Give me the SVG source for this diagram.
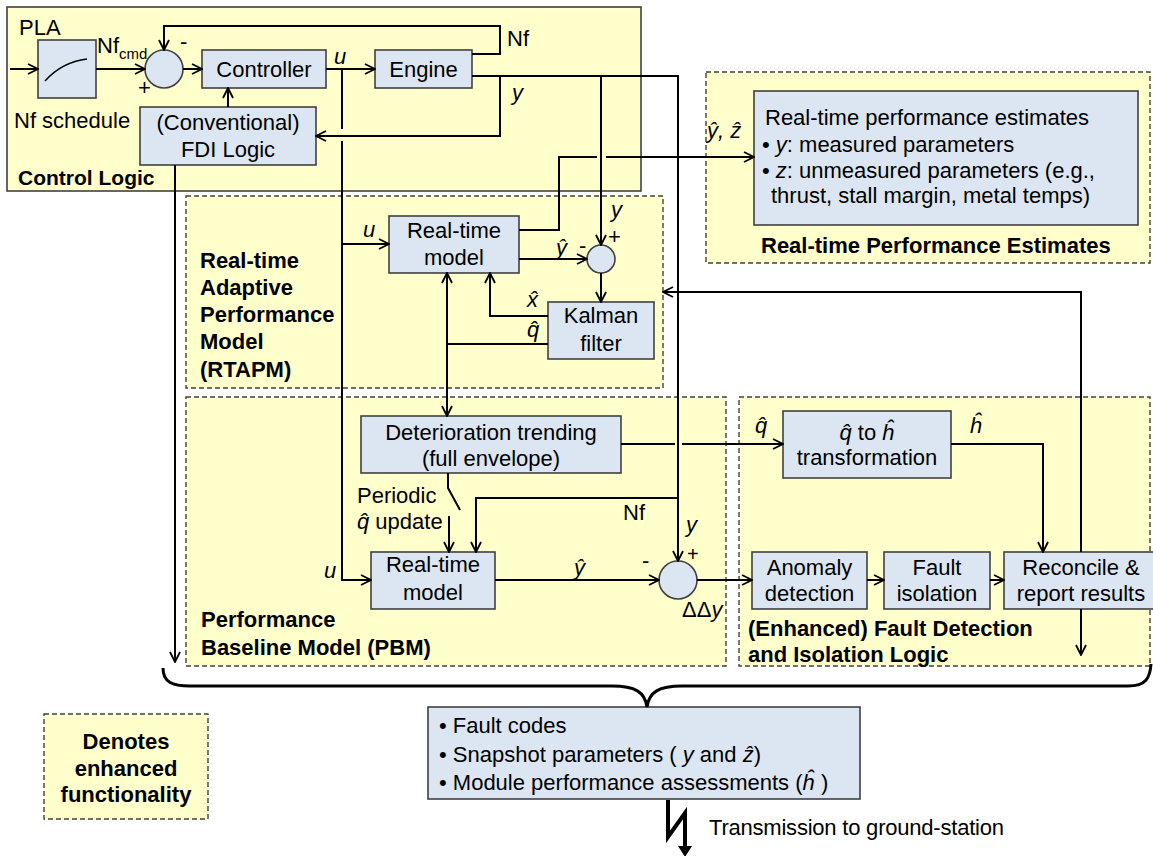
<svg xmlns="http://www.w3.org/2000/svg" width="1153" height="856" viewBox="0 0 1153 856">
<defs>
<marker id="ah" viewBox="0 0 12 12" refX="11" refY="6" markerWidth="12" markerHeight="12" markerUnits="userSpaceOnUse" orient="auto"><path d="M1,1 L11,6 L1,11" fill="none" stroke="#000" stroke-width="1.8"/></marker>
<style>
.blk{fill:#DCE6F2;stroke:#404040;stroke-width:1.6}
.grp{fill:#FFFFCC;stroke:#404040;stroke-width:1.4;stroke-dasharray:5,3}
.ln{fill:none;stroke:#000;stroke-width:2}
.ar{marker-end:url(#ah)}
text{font-family:"Liberation Sans",Arial,sans-serif;font-size:22px;fill:#000}
.b{font-weight:bold}
.i{font-style:italic}
.c{text-anchor:middle}
</style>
</defs>
<rect width="1153" height="856" fill="#fff"/>

<g id="control-logic">
<rect x="7" y="7" width="634" height="184" fill="#FFFFCC" stroke="#404040" stroke-width="1.6"/>
<text x="18" y="185" class="b" style="font-size:21px">Control Logic</text>
</g>

<g id="rtpe">
<rect class="grp" x="706" y="72" width="444" height="191"/>
<text x="761" y="253" class="b">Real-time Performance Estimates</text>
</g>

<g id="rtapm">
<rect class="grp" x="186" y="196" width="477" height="192"/>
<text x="200" y="268" class="b">Real-time</text>
<text x="200" y="295" class="b">Adaptive</text>
<text x="200" y="322" class="b">Performance</text>
<text x="200" y="349" class="b">Model</text>
<text x="200" y="377" class="b">(RTAPM)</text>
</g>

<g id="pbm">
<rect class="grp" x="186" y="397" width="540" height="269"/>
<text x="201" y="627" class="b">Performance</text>
<text x="201" y="655" class="b">Baseline Model (PBM)</text>
</g>

<g id="efdi">
<rect class="grp" x="739" y="397" width="411" height="269"/>
<text x="748" y="636" class="b">(Enhanced) Fault Detection</text>
<text x="748" y="662" class="b">and Isolation Logic</text>
</g>

<g id="nf-schedule">
<text x="19" y="35">PLA</text>
<rect class="blk" x="38" y="40" width="58" height="58"/>
<path d="M45,81 Q62,62 87,59" fill="none" stroke="#000" stroke-width="1.5"/>
<text x="14" y="128">Nf schedule</text>
</g>

<g id="sum1">
<circle cx="164" cy="69" r="19" class="blk"/>
<text x="138" y="95">+</text>
<text x="180" y="49">-</text>
</g>

<g id="controller">
<rect class="blk" x="202" y="50" width="124" height="38"/>
<text x="264" y="77" class="c">Controller</text>
</g>

<g id="engine">
<rect class="blk" x="375" y="50" width="97" height="38"/>
<text x="423.5" y="77" class="c">Engine</text>
</g>

<g id="fdi-logic">
<rect class="blk" x="140" y="107" width="176" height="58"/>
<text x="228" y="130" class="c">(Conventional)</text>
<text x="228" y="157" class="c">FDI Logic</text>
</g>

<g id="rt-estimates">
<rect class="blk" x="754" y="91" width="384" height="134"/>
<text x="765" y="125">Real-time performance estimates</text>
<text x="762" y="152">• <tspan class="i">y</tspan>: measured parameters</text>
<text x="762" y="178">• <tspan class="i">z</tspan>: unmeasured parameters (e.g.,</text>
<text x="771" y="203">thrust, stall margin, metal temps)</text>
</g>

<g id="rtapm-model">
<rect class="blk" x="389" y="216" width="130" height="57"/>
<text x="454" y="238" class="c">Real-time</text>
<text x="454" y="265" class="c">model</text>
</g>

<g id="sum2">
<circle cx="601" cy="259" r="14" class="blk"/>
</g>

<g id="kalman">
<rect class="blk" x="548" y="302" width="106" height="57"/>
<text x="601" y="323" class="c">Kalman</text>
<text x="601" y="351" class="c">filter</text>
</g>

<g id="deterioration">
<rect class="blk" x="361" y="416" width="260" height="57"/>
<text x="491" y="440" class="c">Deterioration trending</text>
<text x="491" y="466" class="c">(full  envelope)</text>
</g>

<g id="pbm-model">
<rect class="blk" x="371" y="552" width="124" height="57"/>
<text x="433" y="572" class="c">Real-time</text>
<text x="433" y="600" class="c">model</text>
</g>

<g id="sum3">
<circle cx="678" cy="580" r="19" class="blk"/>
</g>

<g id="q-to-h">
<rect class="blk" x="783" y="411" width="168" height="67"/>
<text x="867" y="440" class="c"><tspan class="i">q&#x302;</tspan>  to  <tspan class="i">ĥ</tspan></text>
<text x="867" y="465" class="c">transformation</text>
</g>

<g id="anomaly">
<rect class="blk" x="752" y="552" width="115" height="57"/>
<text x="809.5" y="575" class="c">Anomaly</text>
<text x="809.5" y="601" class="c">detection</text>
</g>

<g id="fault-isolation">
<rect class="blk" x="884" y="552" width="106" height="57"/>
<text x="937" y="575" class="c">Fault</text>
<text x="937" y="601" class="c">isolation</text>
</g>

<g id="reconcile">
<rect class="blk" x="1004" y="552" width="154" height="57"/>
<text x="1081" y="575" class="c">Reconcile &amp;</text>
<text x="1081" y="601" class="c">report results</text>
</g>

<g id="outputs">
<rect class="blk" x="428" y="707" width="432" height="92"/>
<text x="439" y="733">• Fault codes</text>
<text x="439" y="762">• Snapshot parameters ( <tspan class="i">y</tspan> and  <tspan class="i">ẑ</tspan>)</text>
<text x="439" y="790">• Module performance assessments (<tspan class="i">ĥ</tspan> )</text>
</g>

<g id="legend">
<rect class="grp" x="44" y="714" width="164" height="105"/>
<text x="126" y="749" class="b c">Denotes</text>
<text x="126" y="776" class="b c">enhanced</text>
<text x="126" y="802" class="b c">functionality</text>
</g>

<g id="connectors">
<path class="ln ar" d="M10,69 H38"/>
<path class="ln ar" d="M96,69 H145"/>
<path class="ln ar" d="M183,69 H202"/>
<path class="ln ar" d="M326,69 H375"/>
<path class="ln ar" d="M472,54 H500 V26 H164 V50"/>
<path class="ln ar" d="M228,107 V88"/>
<path class="ln ar" d="M472,76 H678 V561"/>
<path class="ln ar" d="M500,76 V136 H316"/>
<path class="ln" d="M342,69 V129"/>
<path class="ln ar" d="M342,141 V580 H371"/>
<path class="ln ar" d="M342,244 H389"/>
<path class="ln ar" d="M601,76 V245"/>
<path class="ln" d="M519,230 H559 V157 H597" stroke-width="1.6"/>
<path class="ln ar" d="M606,157 H754" stroke-width="1.6"/>
<path class="ln ar" d="M519,259 H587"/>
<path class="ln ar" d="M601,273 V302"/>
<path class="ln ar" d="M548,316 H490 V273"/>
<path class="ln" d="M548,344 H447"/>
<path class="ln ar" d="M447,344 V273"/>
<path class="ln ar" d="M447,344 V416"/>
<path class="ln" d="M621,444 H675"/>
<path class="ln ar" d="M682,444 H783"/>
<path class="ln" d="M448,473 V488 L460,510" stroke-width="1.5"/>
<path class="ln ar" d="M449,516 V552"/>
<path class="ln ar" d="M678,498 H476 V552"/>
<path class="ln ar" d="M495,580 H659"/>
<path class="ln ar" d="M697,580 H752"/>
<path class="ln ar" d="M867,580 H884"/>
<path class="ln ar" d="M990,580 H1004"/>
<path class="ln ar" d="M951,444 H1043 V552"/>
<path class="ln ar" d="M1081,552 V292 H663"/>
<path class="ln ar" d="M1081,609 V655"/>
<path class="ln ar" d="M175,165 V662"/>
<path d="M163,668 C163,682 172,686 190,686 H612 C635,686 645,692 647,707 C649,692 659,686 682,686 H1128 C1146,686 1150,678 1151,664" fill="none" stroke="#000" stroke-width="3"/>
<path d="M668,800 V837 L685,813 V847" fill="none" stroke="#000" stroke-width="4"/>
<polygon points="678,846 692,846 685,857" fill="#000"/>
</g>

<g id="labels">
<text x="97" y="53">Nf<tspan dy="6" style="font-size:15px">cmd</tspan></text>
<text x="334" y="64" class="i">u</text>
<text x="507" y="46">Nf</text>
<text x="512" y="100" class="i">y</text>
<text x="707" y="138" class="i">ŷ, ẑ</text>
<text x="363" y="237" class="i">u</text>
<text x="556" y="255" class="i">ŷ</text>
<text x="579" y="253">-</text>
<text x="611" y="217" class="i">y</text>
<text x="608" y="244">+</text>
<text x="527" y="307" class="i">x&#x302;</text>
<text x="527" y="337" class="i">q&#x302;</text>
<text x="357" y="503">Periodic</text>
<text x="357" y="529"><tspan class="i">q&#x302;</tspan>  update</text>
<text x="623" y="520">Nf</text>
<text x="324" y="578" class="i">u</text>
<text x="574" y="575" class="i">ŷ</text>
<text x="642" y="568">-</text>
<text x="686" y="532" class="i">y</text>
<text x="687" y="561" style="font-size:20px">+</text>
<text x="682" y="617">ΔΔ<tspan class="i">y</tspan></text>
<text x="755" y="433" class="i">q&#x302;</text>
<text x="970" y="433" class="i">ĥ</text>
<text x="709" y="835" textLength="295">Transmission to ground-station</text>
</g>
</svg>
